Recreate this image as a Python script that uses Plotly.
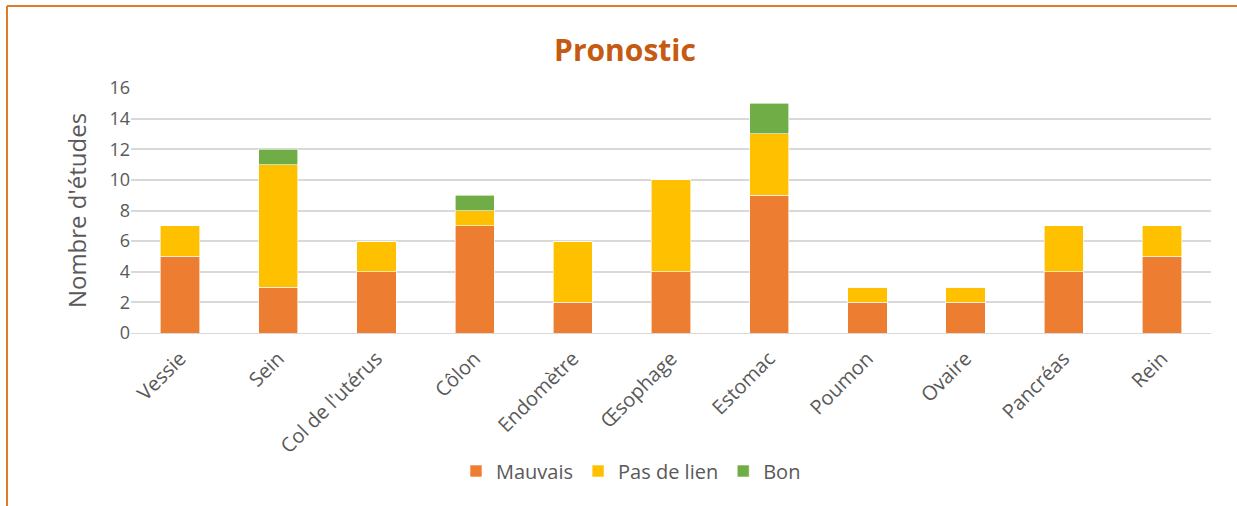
import plotly.graph_objects as go

categories = ["Vessie", "Sein", "Col de l'utérus", "Côlon", "Endomètre", "Œsophage",
              "Estomac", "Poumon", "Ovaire", "Pancréas", "Rein"]
mauvais = [5, 3, 4, 7, 2, 4, 9, 2, 2, 4, 5]
pas_de_lien = [2, 8, 2, 1, 4, 6, 4, 1, 1, 3, 2]
bon = [0, 1, 0, 1, 0, 0, 2, 0, 0, 0, 0]
y_ticks = [0, 2, 4, 6, 8, 10, 12, 14, 16]

FONT = "'Open Sans', Lato, sans-serif"
GREY = "#595959"

fig = go.Figure()
for name, vals, color in [("Mauvais", mauvais, "#ED7D31"),
                          ("Pas de lien", pas_de_lien, "#FFC000"),
                          ("Bon", bon, "#70AD47")]:
    fig.add_trace(go.Bar(x=categories, y=vals, name=name,
                         marker=dict(color=color, line=dict(color="white", width=0.6))))

W, H = 1237, 506
L, T = 131, 88
R = W - 1211
B = H - 333
pw, ph = W - L - R, H - T - B

def px_x(x):
    return (x - L) / pw

def px_y(y):
    return (H - B - y) / ph

fig.update_layout(
    width=W, height=H,
    margin=dict(l=L, r=R, t=T, b=B),
    barmode="stack",
    bargap=0.6,
    paper_bgcolor="white",
    plot_bgcolor="white",
    font=dict(family=FONT, color=GREY, size=16),
    title=dict(text="<b>Pronostic</b>", font=dict(family=FONT, size=30, color="#C55A11"),
               x=px_x(625), xref="paper", xanchor="center",
               y=1 - 50 / H, yref="container", yanchor="middle"),
    xaxis=dict(tickangle=-45, tickfont=dict(size=20, color=GREY), showline=True,
               linecolor="#D9D9D9", linewidth=1, ticks="outside", ticklen=5,
               tickcolor="rgba(0,0,0,0)", automargin=False),
    yaxis=dict(range=[0, 16], tickvals=y_ticks, tickfont=dict(size=18, color=GREY),
               gridcolor="#D9D9D9", gridwidth=1.5, zeroline=False, automargin=False,
               title=dict(text="Nombre d'études", font=dict(size=24, color=GREY), standoff=16)),
    legend=dict(orientation="h", x=px_x(631), xanchor="center", y=px_y(471), yanchor="middle",
                font=dict(size=20, color=GREY), traceorder="normal", itemwidth=30),
    showlegend=True,
)

border = "#E07B2A"
fig.add_shape(type="line", xref="paper", yref="paper",
              x0=px_x(7), x1=px_x(1260), y0=px_y(6), y1=px_y(6),
              line=dict(color=border, width=2))
fig.add_shape(type="line", xref="paper", yref="paper",
              x0=px_x(7), x1=px_x(7), y0=px_y(6), y1=px_y(530),
              line=dict(color=border, width=2))

fig.write_html("out.html", config={"displayModeBar": False},
               post_script="document.body.style.margin='0';")
